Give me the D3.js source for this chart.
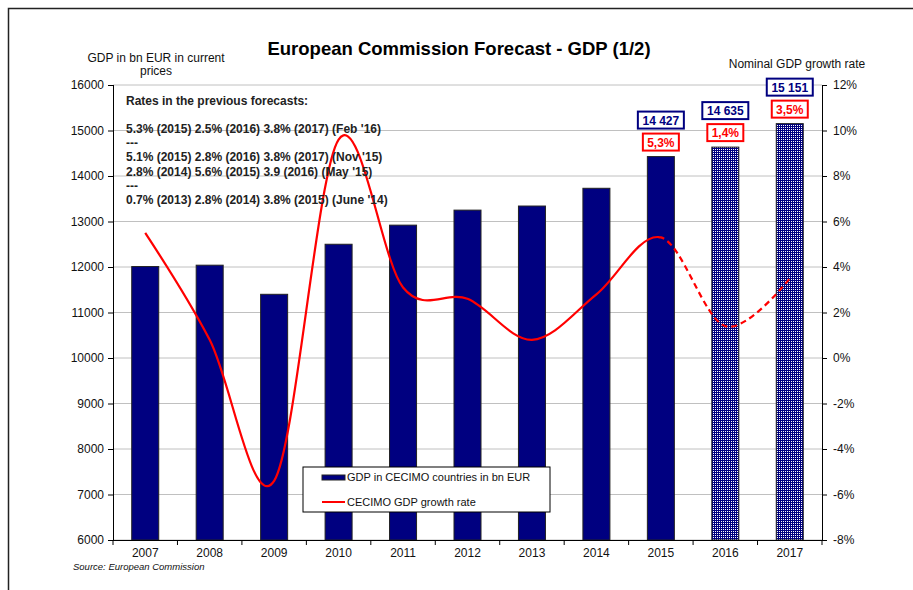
<!DOCTYPE html>
<html>
<head>
<meta charset="utf-8">
<script src="https://cdn.jsdelivr.net/npm/d3@7"></script>
<style>
  body { margin: 0; background: #fff; }
  svg { display: block; font-family: "Liberation Sans", Arial, sans-serif; }
</style>
</head>
<body>
<div id="chart"></div>
<script>
// chart data
const years = ['2007', '2008', '2009', '2010', '2011', '2012', '2013', '2014', '2015', '2016', '2017'];
const gdp = [12010, 12040, 11400, 12500, 12920, 13250, 13340, 13730, 14427, 14635, 15151];
const growth = [5.5, 0.8, -5.4, 9.6, 3.1, 2.6, 0.8, 2.8, 5.3, 1.4, 3.5];
const forecastYears = ['2016', '2017'];
const labelYears = ['2015', '2016', '2017'];
const gdpLabels = ['14 427', '14 635', '15 151'];
const rateLabels = ['5,3%', '1,4%', '3,5%'];
const leftTicks = [6000, 7000, 8000, 9000, 10000, 11000, 12000, 13000, 14000, 15000, 16000];
const rightTicks = [-8, -6, -4, -2, 0, 2, 4, 6, 8, 10, 12];
const noteLines = [
    '5.3% (2015) 2.5% (2016) 3.8% (2017) (Feb \'16)',
    '---',
    '5.1% (2015) 2.8% (2016) 3.8% (2017) (Nov \'15)',
    '2.8% (2014) 5.6% (2015) 3.9 (2016) (May \'15)',
    '---',
    '0.7% (2013) 2.8% (2014) 3.8% (2015) (June \'14)'
];

const width = 913;
const height = 590;
const margin = { top: 85, right: 91, bottom: 50, left: 113 };
const innerW = width - margin.left - margin.right;
const innerH = height - margin.top - margin.bottom;

const svg = d3.select('#chart').append('svg')
    .attr('width', width)
    .attr('height', height);

// dotted fill for forecast bars
const defs = svg.append('defs');
const pat = defs.append('pattern')
    .attr('id', 'dots')
    .attr('patternUnits', 'userSpaceOnUse')
    .attr('width', 2)
    .attr('height', 2);
pat.append('rect').attr('width', 2).attr('height', 2).attr('fill', '#000080');
pat.append('rect').attr('width', 1).attr('height', 1).attr('fill', '#fff');

// outer frame (top and left edges visible)
svg.append('path')
    .attr('d', 'M8.5,590 V8.5 H913')
    .attr('fill', 'none')
    .attr('stroke', '#222')
    .attr('stroke-width', 1.5);

const x = d3.scaleBand()
    .domain(years)
    .range([0, innerW]);

const y = d3.scaleLinear()
    .domain([6000, 16000])
    .range([innerH, 0]);

const yR = d3.scaleLinear()
    .domain([-8, 12])
    .range([innerH, 0]);

const g = svg.append('g')
    .attr('transform', 'translate(' + margin.left + ',' + margin.top + ')');

// gridlines
g.append('g')
    .selectAll('line')
    .data(leftTicks)
    .enter()
    .append('line')
    .attr('x1', 0)
    .attr('x2', innerW)
    .attr('y1', d => y(d))
    .attr('y2', d => y(d))
    .attr('stroke', '#c0c0c0')
    .attr('stroke-width', 1);

// bars
const barW = 27;
g.append('g')
    .selectAll('rect')
    .data(years)
    .enter()
    .append('rect')
    .attr('x', d => x(d) + x.bandwidth() / 2 - barW / 2)
    .attr('y', (d, i) => y(gdp[i]))
    .attr('width', barW)
    .attr('height', (d, i) => innerH - y(gdp[i]))
    .attr('fill', d => forecastYears.includes(d) ? 'url(#dots)' : '#000080')
    .attr('stroke', '#222')
    .attr('stroke-width', 1);

// growth line, solid up to 2015 then dashed
const line = d3.line()
    .x(d => x(d.year) + x.bandwidth() / 2)
    .y(d => yR(d.v))
    .curve(d3.curveCatmullRom.alpha(0));

const pts = years.map((yr, i) => ({ year: yr, v: growth[i] }));
const split = years.indexOf('2015');

g.append('path')
    .datum(pts)
    .attr('d', line)
    .attr('fill', 'none')
    .attr('stroke', 'red')
    .attr('stroke-width', 2.2)
    .attr('stroke-dasharray', function () {
        // measure the solid part to switch to dashes after 2015
        const tmp = g.append('path').datum(pts.slice(0, split + 1)).attr('d', line);
        const solidLen = tmp.node().getTotalLength();
        tmp.remove();
        const total = this.getTotalLength();
        const parts = [solidLen, 0];
        let rest = total - solidLen;
        while (rest > 0) { parts.push(6, 4); rest -= 10; }
        return parts.join(',');
    });

// value labels above the last bars
labelYears.forEach((yr, i) => {
    const cx = x(yr) + x.bandwidth() / 2;
    const top = y(gdp[years.indexOf(yr)]);
    const boxes = [
        { text: rateLabels[i], color: 'red', w: 36, y0: top - 23 },
        { text: gdpLabels[i], color: '#000080', w: 46, y0: top - 45 }
    ];
    boxes.forEach(b => {
        g.append('rect')
            .attr('x', cx - b.w / 2)
            .attr('y', b.y0)
            .attr('width', b.w)
            .attr('height', 17)
            .attr('fill', '#fff')
            .attr('stroke', b.color)
            .attr('stroke-width', 2);
        g.append('text')
            .attr('x', cx)
            .attr('y', b.y0 + 13)
            .attr('text-anchor', 'middle')
            .attr('font-size', 12)
            .attr('font-weight', 'bold')
            .attr('fill', b.color)
            .text(b.text);
    });
});

// axes
const axisL = g.append('g')
    .call(d3.axisLeft(y).tickValues(leftTicks).tickSize(5).tickPadding(4).tickFormat(d3.format('d')));
const axisR = g.append('g')
    .attr('transform', 'translate(' + innerW + ',0)')
    .call(d3.axisRight(yR).tickValues(rightTicks).tickSize(5).tickPadding(6).tickFormat(d => d + '%'));
const axisB = g.append('g')
    .attr('transform', 'translate(0,' + innerH + ')')
    .call(d3.axisBottom(x).tickSize(0).tickPadding(8));

// bottom ticks at band edges
g.append('g')
    .selectAll('line')
    .data(d3.range(years.length + 1))
    .enter()
    .append('line')
    .attr('x1', i => i * x.step())
    .attr('x2', i => i * x.step())
    .attr('y1', innerH)
    .attr('y2', innerH + 5)
    .attr('stroke', '#000');

[axisL, axisR, axisB].forEach(a => {
    a.select('.domain').attr('stroke', '#000');
    a.selectAll('.tick line').attr('stroke', '#000');
    a.selectAll('text').attr('font-size', 12).attr('fill', '#111')
        .attr('font-family', '"Liberation Sans", Arial, sans-serif');
});
axisL.select('.domain').attr('d', 'M0.5,0V' + innerH);
axisR.select('.domain').attr('d', 'M0.5,0V' + innerH);
axisB.select('.domain').attr('d', 'M0,0.5H' + innerW);

// notes in the plot
const notes = g.append('g').attr('font-size', 12).attr('font-weight', 'bold').attr('fill', '#222');
notes.append('text').attr('x', 13).attr('y', 20).text('Rates in the previous forecasts:');
noteLines.forEach((t, i) => {
    notes.append('text')
        .attr('x', 13)
        .attr('y', 48 + i * 14.2)
        .text(t);
});

// legend
const leg = g.append('g').attr('transform', 'translate(190,382)');
leg.append('rect')
    .attr('width', 247)
    .attr('height', 45)
    .attr('fill', '#fff')
    .attr('stroke', '#000')
    .attr('stroke-width', 1);
leg.append('rect')
    .attr('x', 19).attr('y', 8).attr('width', 23).attr('height', 5)
    .attr('fill', '#000080').attr('stroke', '#222').attr('stroke-width', 1);
leg.append('text')
    .attr('x', 44).attr('y', 14)
    .attr('font-size', 11).attr('fill', '#111')
    .text('GDP in CECIMO countries in bn EUR');
leg.append('line')
    .attr('x1', 19).attr('x2', 42).attr('y1', 35).attr('y2', 35)
    .attr('stroke', 'red').attr('stroke-width', 2);
leg.append('text')
    .attr('x', 44).attr('y', 39)
    .attr('font-size', 11).attr('fill', '#111')
    .text('CECIMO GDP growth rate');

// titles
svg.append('text')
    .attr('x', 459)
    .attr('y', 55)
    .attr('text-anchor', 'middle')
    .attr('font-size', 18.5)
    .attr('font-weight', 'bold')
    .text('European Commission Forecast - GDP (1/2)');

svg.append('text')
    .attr('x', 156)
    .attr('y', 62)
    .attr('text-anchor', 'middle')
    .attr('font-size', 12)
    .attr('fill', '#111')
    .selectAll('tspan')
    .data(['GDP in bn EUR in current', 'prices'])
    .enter()
    .append('tspan')
    .attr('x', 156)
    .attr('dy', (d, i) => i === 0 ? 0 : 13)
    .text(d => d);

svg.append('text')
    .attr('x', 797)
    .attr('y', 68)
    .attr('text-anchor', 'middle')
    .attr('font-size', 12)
    .attr('fill', '#111')
    .text('Nominal GDP growth rate');

svg.append('text')
    .attr('x', 73)
    .attr('y', 569.5)
    .attr('font-size', 9.5)
    .attr('font-style', 'italic')
    .attr('fill', '#111')
    .text('Source: European Commission');
</script>
</body>
</html>
